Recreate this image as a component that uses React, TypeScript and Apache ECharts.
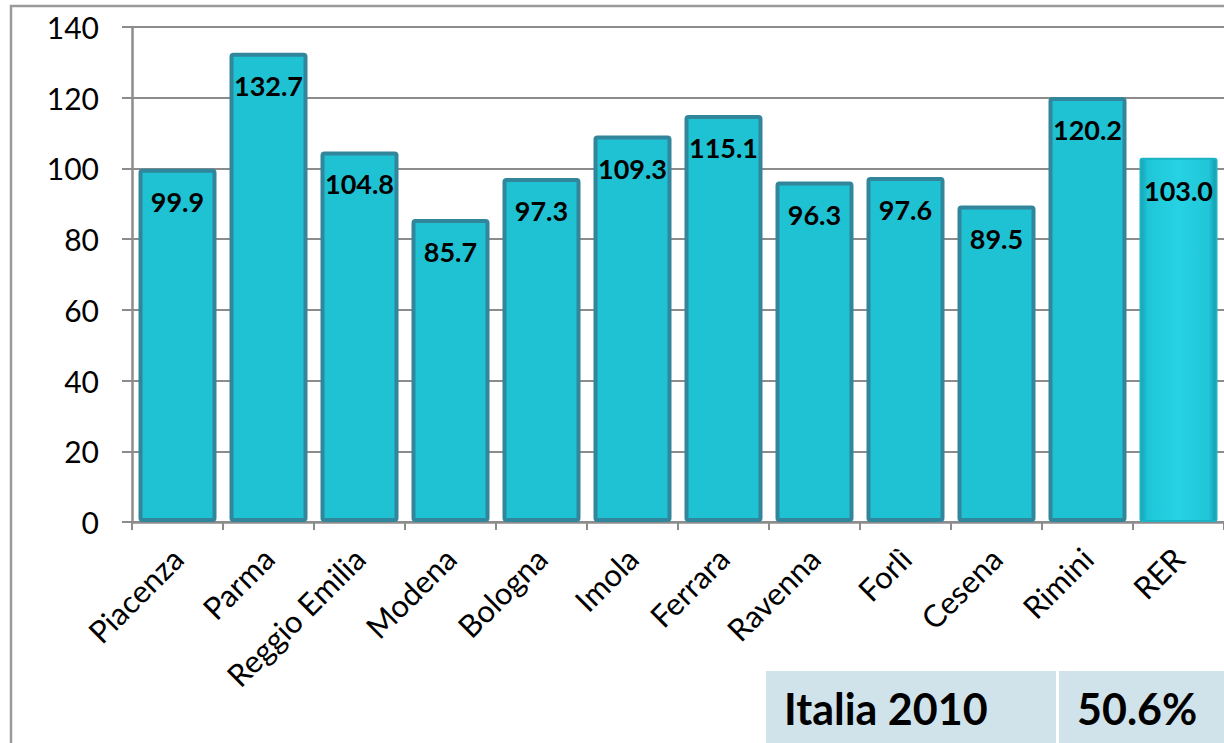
import React, { useEffect, useRef } from "react";
import * as echarts from "echarts";

const categories = ["Piacenza", "Parma", "Reggio Emilia", "Modena", "Bologna", "Imola", "Ferrara", "Ravenna", "Forlì", "Cesena", "Rimini", "RER"];
const values = [99.9, 132.7, 104.8, 85.7, 97.3, 109.3, 115.1, 96.3, 97.6, 89.5, 120.2, 103.0];
const yTicks = { min: 0, max: 140, interval: 20 };
const tableLabel = "Italia 2010";
const tableValue = "50.6%";

const FONT = "Lato";

export default function App() {
  const ref = useRef<HTMLDivElement>(null);
  useEffect(() => {
    if (!ref.current) return;
    const chart = echarts.init(ref.current, null, { renderer: "svg" });
    const rerGradient = new echarts.graphic.LinearGradient(0, 0, 1, 0, [
      { offset: 0, color: "#15a3b3" },
      { offset: 0.1, color: "#20c6d8" },
      { offset: 0.5, color: "#26d2e3" },
      { offset: 0.9, color: "#20c6d8" },
      { offset: 1, color: "#139aaa" },
    ]);
    const data = values.map((v, i) => {
      if (categories[i] === "RER") {
        return {
          value: v,
          itemStyle: { color: rerGradient, borderColor: "#1ab4c5", borderWidth: 2 },
        };
      }
      return { value: v };
    });
    chart.setOption({
      animation: false,
      backgroundColor: "#ffffff",
      grid: { left: 132, top: 27, bottom: 221, right: -8, containLabel: false },
      xAxis: {
        type: "category",
        data: categories,
        axisLine: { lineStyle: { color: "#8c8c8c", width: 2.5 } },
        axisTick: { show: true, length: 8, lineStyle: { color: "#8c8c8c", width: 2 } },
        axisLabel: {
          rotate: 45,
          interval: 0,
          margin: 31,
          fontFamily: FONT,
          fontSize: 31,
          color: "#000000",
        },
      },
      yAxis: {
        type: "value",
        min: yTicks.min,
        max: yTicks.max,
        interval: yTicks.interval,
        axisLine: { show: true, lineStyle: { color: "#8c8c8c", width: 2.5 } },
        axisTick: { show: true, length: 10, lineStyle: { color: "#8c8c8c", width: 2 } },
        axisLabel: { margin: 33, fontFamily: FONT, fontSize: 30, color: "#000000" },
        splitLine: { show: true, lineStyle: { color: "#8c8c8c", width: 2 } },
      },
      series: [
        {
          type: "bar",
          data,
          barWidth: 78,
          itemStyle: { color: "#1fc2d3", borderColor: "#31869c", borderWidth: 4, borderRadius: 2 },
          label: {
            show: true,
            position: "insideTop",
            distance: 19,
            formatter: (p: any) => Number(p.value).toFixed(1),
            fontFamily: FONT,
            fontWeight: "bold",
            fontSize: 27,
            color: "#000000",
          },
        },
      ],
      graphic: [
        {
          type: "rect",
          z: 100,
          shape: { x: 11, y: 6, width: 1400, height: 1000 },
          style: { fill: "none", stroke: "#9a9a9a", lineWidth: 2.5 },
        },
        {
          type: "rect",
          z: 100,
          shape: { x: 766, y: 671, width: 290, height: 80 },
          style: { fill: "#d0e3ea" },
        },
        {
          type: "rect",
          z: 100,
          shape: { x: 1059, y: 671, width: 200, height: 80 },
          style: { fill: "#d0e3ea" },
        },
        {
          type: "text",
          z: 101,
          x: 784,
          y: 708,
          style: {
            text: tableLabel,
            fontFamily: FONT,
            fontWeight: "bold",
            fontSize: 43,
            fill: "#000000",
            verticalAlign: "middle",
          },
        },
        {
          type: "text",
          z: 101,
          x: 1077,
          y: 708,
          style: {
            text: tableValue,
            fontFamily: FONT,
            fontWeight: "bold",
            fontSize: 43,
            fill: "#000000",
            verticalAlign: "middle",
          },
        },
      ],
    });
    return () => chart.dispose();
  }, []);
  return (
    <div
      ref={ref}
      style={{ position: "fixed", left: 0, top: 0, width: 1224, height: 743, background: "#fff" }}
    />
  );
}
